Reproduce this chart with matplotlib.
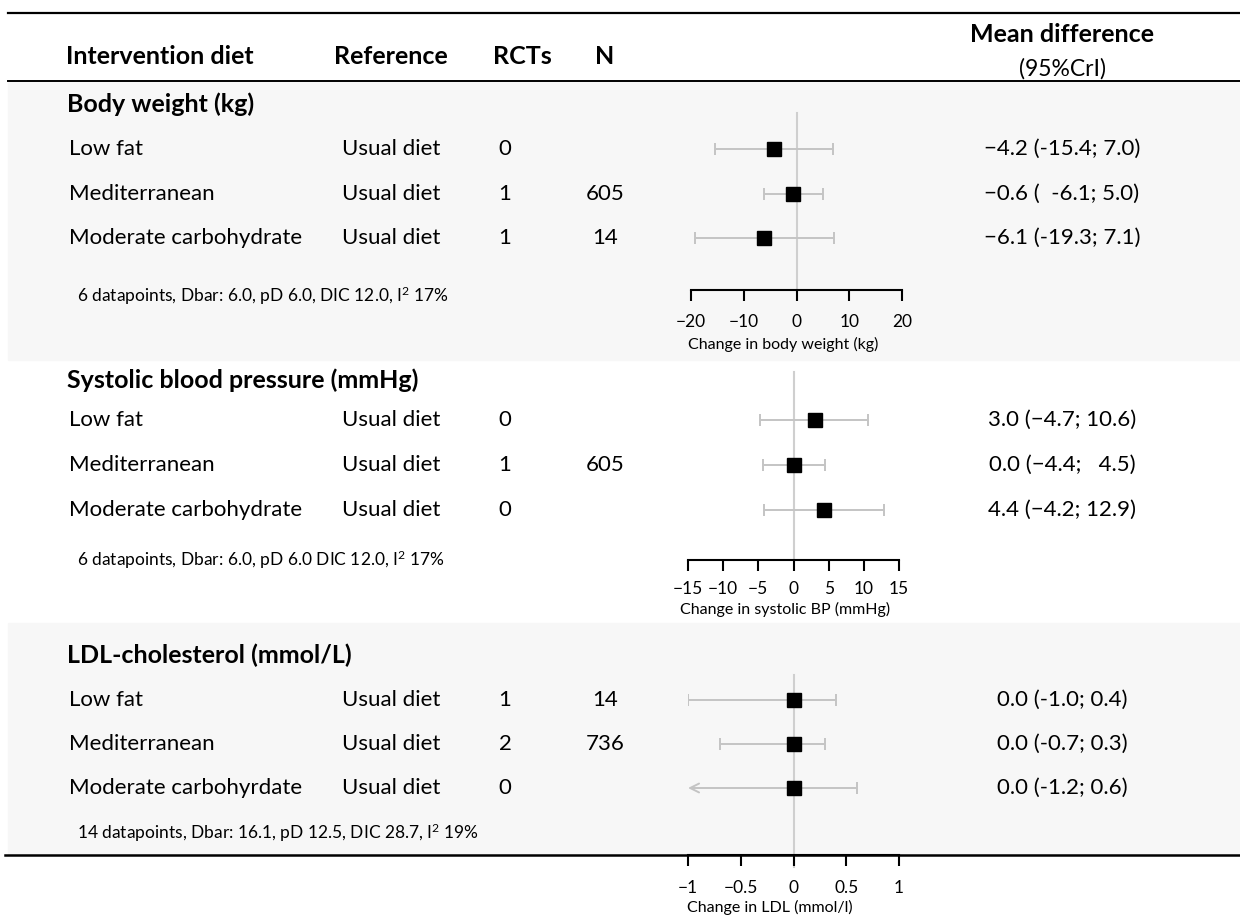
import matplotlib
matplotlib.use("Agg")
import matplotlib.pyplot as plt
from matplotlib.patches import Rectangle

plt.rcParams["font.family"] = ["Lato", "DejaVu Sans"]
plt.rcParams["mathtext.fontset"] = "custom"
plt.rcParams["mathtext.rm"] = "Lato"
plt.rcParams["mathtext.it"] = "Lato"

W, H = 1240, 915

# ---- table content ----
outcomes = ["Body weight (kg)", "Systolic blood pressure (mmHg)", "LDL-cholesterol (mmol/L)"]
diets_bw = ["Low fat", "Mediterranean", "Moderate carbohydrate"]
diets_sbp = ["Low fat", "Mediterranean", "Moderate carbohydrate"]
diets_ldl = ["Low fat", "Mediterranean", "Moderate carbohyrdate"]
reference = "Usual diet"

rcts_bw = [0, 1, 1]
rcts_sbp = [0, 1, 0]
rcts_ldl = [1, 2, 0]
n_bw = ["", "605", "14"]
n_sbp = ["", "605", ""]
n_ldl = ["14", "736", ""]

md_bw = [-4.2, -0.6, -6.1]
lo_bw = [-15.4, -6.1, -19.3]
hi_bw = [7.0, 5.0, 7.1]

md_sbp = [3.0, 0.0, 4.4]
lo_sbp = [-4.7, -4.4, -4.2]
hi_sbp = [10.6, 4.5, 12.9]

md_ldl = [0.0, 0.0, 0.0]
lo_ldl = [-1.0, -0.7, -1.2]
hi_ldl = [0.4, 0.3, 0.6]

fit_bw = "6 datapoints, Dbar: 6.0, pD 6.0, DIC 12.0, I$^{2}$ 17%"
fit_sbp = "6 datapoints, Dbar: 6.0, pD 6.0 DIC 12.0, I$^{2}$ 17%"
fit_ldl = "14 datapoints, Dbar: 16.1, pD 12.5, DIC 28.7, I$^{2}$ 19%"

ticks_bw = [-20, -10, 0, 10, 20]
ticks_sbp = [-15, -10, -5, 0, 5, 10, 15]
ticks_ldl = [-1, -0.5, 0, 0.5, 1]
ticklabels_bw = ["\u221220", "\u221210", "0", "10", "20"]
ticklabels_sbp = ["\u221215", "\u221210", "\u22125", "0", "5", "10", "15"]
ticklabels_ldl = ["\u22121", "\u22120.5", "0", "0.5", "1"]
xlabel_bw = "Change in body weight (kg)"
xlabel_sbp = "Change in systolic BP (mmHg)"
xlabel_ldl = "Change in LDL (mmol/l)"

GREY_CI = "#c4c4c4"
PANEL = "#f7f7f7"


def num(v, minus):
    s = f"{abs(v):.1f}"
    return (minus if v < 0 else "") + s


def ci_labels(md, lo, hi, lead_minus, ci_minus):
    lo_s = [num(v, ci_minus) for v in lo]
    hi_s = [num(v, ci_minus) for v in hi]
    wl = max(len(s) for s in lo_s)
    wh = max(len(s) for s in hi_s)
    out = []
    for m, a, b in zip(md, lo_s, hi_s):
        a = "  " * (wl - len(a)) + a
        b = "  " * (wh - len(b)) + b
        out.append(f"{num(m, lead_minus)} ({a}; {b})")
    return out


fig = plt.figure(figsize=(W / 100, H / 100), dpi=100)
bg = fig.add_axes([0, 0, 1, 1])
bg.set_xlim(0, W)
bg.set_ylim(H, 0)
bg.axis("off")

# shaded bands for the first and last outcome
bg.add_patch(Rectangle((8, 82), W - 8, 278, color=PANEL, zorder=0))
bg.add_patch(Rectangle((8, 623), W - 8, 232, color=PANEL, zorder=0))

# horizontal rules
bg.plot([8, W], [13, 13], color="black", lw=1.6)
bg.plot([8, W], [81, 81], color="black", lw=1.4)
bg.plot([5, W], [855, 855], color="black", lw=1.8, zorder=3)

# header
hdr = dict(fontsize=18, fontweight="bold", va="center")
bg.text(66, 56, "Intervention diet", ha="left", **hdr)
bg.text(391, 56, "Reference", ha="center", **hdr)
bg.text(522, 56, "RCTs", ha="center", **hdr)
bg.text(605, 56, "N", ha="center", **hdr)
bg.text(1062, 34, "Mean difference", ha="center", **hdr)
bg.text(1062, 69, "(95%CrI)", ha="center", va="center", fontsize=16.5)

# x positions of the columns
X_INT, X_REF, X_RCT, X_N, X_MD = 67, 391, 505, 605, 1062


def place_axes(x0, x1, ytop, ybot):
    return fig.add_axes([x0 / W, 1 - ybot / H, (x1 - x0) / W, (ybot - ytop) / H])


panels = [
    dict(title=outcomes[0], y_title=104, rows=[149, 193.5, 238], y_fit=296,
         diets=diets_bw, rcts=rcts_bw, n=n_bw, md=md_bw, lo=lo_bw, hi=hi_bw,
         labels=ci_labels(md_bw, lo_bw, hi_bw, "\u2212", "-"), fit=fit_bw,
         ax=(691, 902, 113, 290), xlim=(-20, 20), ticks=ticks_bw,
         ticklabels=ticklabels_bw, xlabel=xlabel_bw, zero_ext=0,
         pad=9, label_xy=(783, 344)),
    dict(title=outcomes[1], y_title=380, rows=[420, 465, 510], y_fit=560,
         diets=diets_sbp, rcts=rcts_sbp, n=n_sbp, md=md_sbp, lo=lo_sbp, hi=hi_sbp,
         labels=ci_labels(md_sbp, lo_sbp, hi_sbp, "\u2212", "\u2212"), fit=fit_sbp,
         ax=(688, 899, 372, 560), xlim=(-15, 15), ticks=ticks_sbp,
         ticklabels=ticklabels_sbp, xlabel=xlabel_sbp, zero_ext=0,
         pad=7, label_xy=(785, 609)),
    dict(title=outcomes[2], y_title=655, rows=[700, 744, 788], y_fit=833,
         diets=diets_ldl, rcts=rcts_ldl, n=n_ldl, md=md_ldl, lo=lo_ldl, hi=hi_ldl,
         labels=ci_labels(md_ldl, lo_ldl, hi_ldl, "\u2212", "-"), fit=fit_ldl,
         ax=(688, 899, 675, 855), xlim=(-1, 1), ticks=ticks_ldl,
         ticklabels=ticklabels_ldl, xlabel=xlabel_ldl, zero_ext=12,
         pad=10, label_xy=(770, 907)),
]

txt = dict(fontsize=16, va="center")
for p in panels:
    bg.text(X_INT, p["y_title"], p["title"], ha="left", fontsize=18,
            fontweight="bold", va="center")
    for y, d, r, n, lab in zip(p["rows"], p["diets"], p["rcts"], p["n"], p["labels"]):
        bg.text(X_INT + 2, y, d, ha="left", **txt)
        bg.text(X_REF, y, reference, ha="center", **txt)
        bg.text(X_RCT, y, str(r), ha="center", **txt)
        bg.text(X_N, y, n, ha="center", **txt)
        bg.text(X_MD, y, lab, ha="center", **txt)
    bg.text(77, p["y_fit"], p["fit"], ha="left", va="center", fontsize=12.5)

    # forest plot for this outcome
    x0, x1, ytop, ybot = p["ax"]
    ax = place_axes(x0, x1, ytop, ybot)
    ax.set_facecolor("none")
    r0 = p["rows"][0]
    step = (p["rows"][-1] - r0) / (len(p["rows"]) - 1)
    ax.set_ylim((ybot - r0) / step, (ytop - r0) / step)
    ax.set_xlim(*p["xlim"])
    xmin = p["xlim"][0]

    ext = p["zero_ext"] / (ybot - ytop)
    ax.axvline(0, ymin=-ext, ymax=1, color="#cfcfcf", lw=1.5, zorder=1, clip_on=False)

    for i, (m, lo, hi) in enumerate(zip(p["md"], p["lo"], p["hi"])):
        if lo < xmin:
            # interval runs past the axis: arrow instead of a cap
            ax.annotate("", xy=(xmin, i), xytext=(m, i),
                        arrowprops=dict(arrowstyle="->", color=GREY_CI, lw=1.4,
                                        mutation_scale=16, shrinkA=0, shrinkB=0))
            xerr = [[0], [hi - m]]
        else:
            xerr = [[m - lo], [hi - m]]
        ax.errorbar([m], [i], xerr=xerr, fmt="none", ecolor=GREY_CI,
                    elinewidth=1.4, capsize=4, capthick=1.4, zorder=2)
        ax.plot([m], [i], marker="s", color="black", markersize=9.5, zorder=4)

    for side in ("top", "left", "right"):
        ax.spines[side].set_visible(False)
    ax.spines["bottom"].set_linewidth(1.5)
    ax.set_yticks([])
    ax.set_xticks(p["ticks"])
    ax.set_xticklabels(p["ticklabels"], fontsize=12.5)
    ax.tick_params(axis="x", direction="out", length=8, width=1.5, pad=p["pad"])
    ax.set_xlabel(p["xlabel"], fontsize=11.5, va="center", ha="center")
    lx, ly = p["label_xy"]
    ax.xaxis.set_label_coords((lx - x0) / (x1 - x0), (ybot - ly) / (ybot - ytop))

fig.savefig("out.png", dpi=100)
